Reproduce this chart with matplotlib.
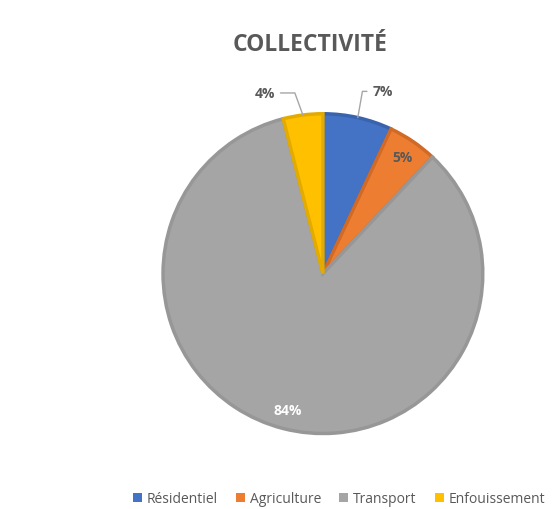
import matplotlib.pyplot as plt
from matplotlib.patches import Patch
import numpy as np

plt.rcParams['font.family'] = ['Open Sans', 'DejaVu Sans']

# emissions by sector (%)
secteurs = ["Résidentiel", "Agriculture", "Transport", "Enfouissement"]
parts = [7, 5, 84, 4]
couleurs = ["#4472C4", "#ED7D31", "#A5A5A5", "#FFC000"]
bords = ["#3A63AD", "#D06A26", "#979797", "#E3AA00"]

fig = plt.figure(figsize=(5.52, 5.10), dpi=100)
ax = fig.add_axes([0.295, 0.148, 0.58, 0.627])

wedges, _ = ax.pie(parts, colors=couleurs, startangle=90, counterclock=False,
                   wedgeprops=dict(linewidth=2.5))
for w, b in zip(wedges, bords):
    w.set_edgecolor(b)
ax.set_aspect('equal')
ax.set_xlim(-1, 1)
ax.set_ylim(-1, 1)

gris = "#595959"
for w, p in zip(wedges, parts):
    a = np.deg2rad((w.theta1 + w.theta2) / 2)
    txt = "{}%".format(p)
    if p in (5, 84):
        c = "white" if p == 84 else gris
        ax.text(0.88*np.cos(a), 0.88*np.sin(a), txt, ha='center', va='center',
                fontsize=10, fontweight='bold', color=c)
    else:
        bord = (np.cos(a), np.sin(a))
        if np.cos(a) > 0:
            pos, ha, angB = (0.31, 1.14), 'left', 80
        else:
            pos, ha, angB = (-0.30, 1.13), 'right', 110
        ax.annotate(txt, xy=bord, xytext=pos, ha=ha, va='center',
                    fontsize=10, fontweight='bold', color=gris,
                    arrowprops=dict(arrowstyle='-', color='#A6A6A6', lw=1,
                                    shrinkA=2, shrinkB=0,
                                    connectionstyle='angle,angleA=0,angleB={}'.format(angB)))

fig.text(0.562, 0.912, "COLLECTIVITÉ", ha='center', va='center',
         fontsize=16.5, fontweight='bold', color=gris)

poignees = [Patch(facecolor=c, edgecolor='none') for c in couleurs]
fig.legend(poignees, secteurs, loc='center', bbox_to_anchor=(0.614, 0.02),
           ncol=4, frameon=False, fontsize=10, handlelength=0.65, handleheight=0.65,
           handletextpad=0.35, columnspacing=1.3, labelcolor=gris)

plt.savefig("out.png", dpi=100)
